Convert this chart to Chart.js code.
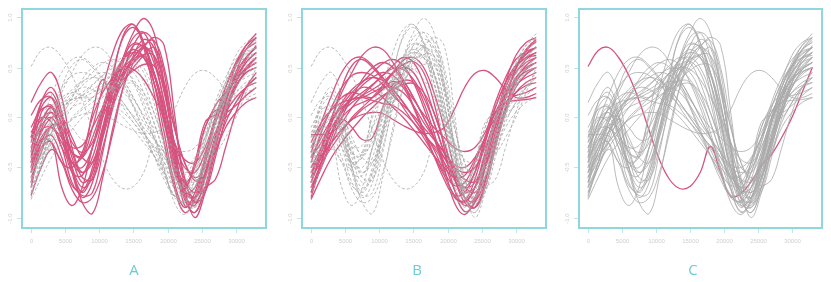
<!DOCTYPE html>
<html>
<head>
<meta charset="utf-8">
<script src="https://cdn.jsdelivr.net/npm/chart.js@4.4.1/dist/chart.umd.min.js"></script>
<style>
  html, body { margin: 0; padding: 0; background: #fff; }
  #wrap { position: relative; width: 831px; height: 282px; overflow: hidden; }
  canvas { position: absolute; top: 0; }
  .title {
    position: absolute; top: 259px; width: 40px; margin-left: -20px;
    text-align: center; font-family: 'Open Sans', sans-serif; font-size: 15px; color: #6ccbd6;
  }
</style>
</head>
<body>
<div id="wrap">
  <canvas id="chartA" width="280" height="282" style="left:0px"></canvas>
  <canvas id="chartB" width="280" height="282" style="left:280px"></canvas>
  <canvas id="chartC" width="274" height="282" style="left:557px"></canvas>
  <div class="title" style="left:134px">A</div>
  <div class="title" style="left:417px">B</div>
  <div class="title" style="left:693px">C</div>
</div>
<script>
// Shared sample positions of every curve
const xGrid = [0, 1500, 3000, 4500, 6000, 7500, 9000, 10500, 12000, 13500, 15000, 16500,
    18000, 19500, 21000, 22500, 24000, 25500, 27000, 28500, 30000, 31500, 33000];
const xTicks = [0, 5000, 10000, 15000, 20000, 25000, 30000];
const yTicks = [-1, -0.5, 0, 0.5, 1];

// Cluster highlighted in panel A
const groupA = [
    [0.15, 0.35, 0.45, 0.2, -0.3, -0.55, -0.4, 0.0, 0.45, 0.8, 0.9, 0.75, 0.45, 0.0, -0.55, -0.72, -0.45, -0.1, 0.12, 0.25, 0.38, 0.48, 0.55],
    [0.02, 0.18, 0.2, -0.1, -0.55, -0.8, -0.65, -0.2, 0.25, 0.6, 0.85, 0.99, 0.85, 0.35, -0.3, -0.78, -0.88, -0.6, -0.2, 0.15, 0.45, 0.68, 0.8],
    [-0.1, 0.08, 0.1, -0.15, -0.5, -0.85, -0.96, -0.6, -0.1, 0.3, 0.55, 0.7, 0.8, 0.72, 0.05, -0.7, -1.0, -0.75, -0.35, -0.05, 0.15, 0.3, 0.4],
    [-0.2, -0.02, 0.05, -0.15, -0.35, -0.38, 0.05, 0.38, 0.15, 0.45, 0.72, 0.7, 0.45, 0.1, -0.25, -0.5, -0.55, -0.35, -0.05, 0.2, 0.4, 0.55, 0.65],
    [-0.3, -0.08, 0.0, -0.2, -0.5, -0.7, -0.6, -0.15, 0.4, 0.82, 0.93, 0.7, 0.25, -0.25, -0.7, -0.95, -0.82, -0.45, -0.05, 0.25, 0.45, 0.6, 0.7],
    [-0.45, -0.2, -0.1, -0.25, -0.45, -0.5, -0.3, 0.0, 0.25, 0.45, 0.58, 0.6, 0.42, 0.05, -0.4, -0.65, -0.5, -0.1, 0.07, 0.05, 0.12, 0.22, 0.3],
    [-0.55, -0.25, -0.18, -0.4, -0.68, -0.74, -0.5, -0.1, 0.2, 0.4, 0.6, 0.7, 0.62, 0.25, -0.25, -0.65, -0.8, -0.6, -0.2, 0.2, 0.52, 0.72, 0.84],
    [-0.78, -0.5, -0.32, -0.45, -0.72, -0.85, -0.8, -0.55, -0.15, 0.3, 0.62, 0.78, 0.7, 0.3, -0.3, -0.75, -0.8, -0.55, -0.25, 0.05, 0.3, 0.45, 0.5],
    [-0.25, 0.1, 0.2, 0.0, -0.25, -0.35, -0.25, 0.05, 0.3, 0.45, 0.55, 0.63, 0.62, 0.35, -0.1, -0.45, -0.6, -0.5, -0.2, 0.15, 0.42, 0.6, 0.7],
    [-0.4, -0.05, 0.1, -0.05, -0.35, -0.6, -0.62, -0.3, 0.1, 0.45, 0.72, 0.85, 0.75, 0.3, -0.3, -0.8, -0.95, -0.7, -0.3, 0.05, 0.3, 0.48, 0.6],
    [-0.6, -0.35, -0.08, -0.1, -0.35, -0.4, -0.2, 0.1, 0.35, 0.5, 0.48, 0.38, 0.2, 0.0, -0.25, -0.42, -0.45, -0.3, 0.0, 0.3, 0.52, 0.68, 0.75],
    [-0.7, -0.3, -0.25, -0.7, -0.88, -0.7, -0.3, 0.05, 0.35, 0.6, 0.74, 0.7, 0.45, 0.0, -0.45, -0.75, -0.7, -0.45, -0.15, 0.05, 0.2, 0.3, 0.35],
    [-0.35, 0.15, 0.3, 0.05, -0.5, -0.75, -0.55, -0.1, 0.3, 0.58, 0.68, 0.6, 0.35, -0.05, -0.5, -0.8, -0.85, -0.7, -0.62, -0.3, 0.05, 0.3, 0.45],
    [-0.5, -0.12, 0.05, -0.15, -0.45, -0.55, -0.45, -0.15, 0.15, 0.35, 0.5, 0.62, 0.7, 0.45, -0.3, -0.88, -0.8, -0.4, 0.0, 0.3, 0.55, 0.72, 0.8],
    [-0.15, 0.0, -0.05, -0.3, -0.45, -0.4, -0.1, 0.3, 0.65, 0.88, 0.93, 0.75, 0.35, -0.15, -0.65, -0.9, -0.75, -0.4, -0.05, 0.2, 0.38, 0.48, 0.55],
    [-0.3, -0.12, -0.1, -0.2, -0.3, -0.28, -0.1, 0.1, 0.25, 0.38, 0.47, 0.53, 0.52, 0.3, -0.1, -0.45, -0.63, -0.58, -0.35, -0.1, 0.05, 0.15, 0.2],
    [-0.65, -0.25, -0.1, -0.3, -0.65, -0.78, -0.75, -0.35, 0.15, 0.55, 0.8, 0.85, 0.6, 0.15, -0.4, -0.82, -0.95, -0.7, -0.3, 0.05, 0.35, 0.55, 0.65],
    [-0.45, 0.05, 0.12, -0.2, -0.55, -0.58, -0.3, 0.1, 0.4, 0.58, 0.65, 0.6, 0.35, -0.05, -0.5, -0.7, -0.45, -0.05, 0.02, 0.0, 0.15, 0.3, 0.4],
    [-0.2, 0.15, 0.25, 0.0, -0.4, -0.65, -0.55, -0.15, 0.25, 0.5, 0.65, 0.72, 0.55, 0.15, -0.35, -0.72, -0.8, -0.6, -0.25, 0.1, 0.35, 0.5, 0.6],
    [-0.55, -0.22, -0.25, -0.45, -0.5, -0.35, 0.0, 0.25, 0.4, 0.5, 0.6, 0.72, 0.77, 0.5, -0.05, -0.6, -0.85, -0.75, -0.4, 0.0, 0.35, 0.58, 0.72],
    [-0.38, -0.15, 0.0, 0.0, -0.2, -0.4, -0.45, -0.2, 0.15, 0.42, 0.58, 0.62, 0.45, 0.1, -0.3, -0.62, -0.75, -0.55, -0.2, 0.1, 0.32, 0.45, 0.5]
];

// Cluster highlighted in panel B
const groupB = [
    [-0.6, -0.3, 0.0, 0.25, 0.45, 0.62, 0.7, 0.68, 0.55, 0.38, 0.2, 0.0, -0.2, -0.45, -0.72, -0.88, -0.8, -0.5, -0.15, 0.2, 0.48, 0.67, 0.76],
    [-0.8, -0.45, -0.05, 0.3, 0.52, 0.58, 0.5, 0.38, 0.25, 0.1, -0.05, -0.2, -0.38, -0.58, -0.78, -0.84, -0.7, -0.4, -0.05, 0.25, 0.45, 0.55, 0.6],
    [-0.17, -0.17, -0.15, -0.05, 0.1, 0.22, 0.32, 0.42, 0.52, 0.6, 0.55, 0.35, 0.05, -0.25, -0.55, -0.74, -0.7, -0.45, -0.1, 0.2, 0.4, 0.5, 0.55],
    [-0.5, -0.3, -0.1, 0.05, 0.15, 0.22, 0.28, 0.35, 0.45, 0.53, 0.56, 0.45, 0.15, -0.3, -0.72, -0.94, -0.85, -0.5, -0.05, 0.35, 0.62, 0.75, 0.8],
    [-0.7, -0.45, -0.15, -0.02, -0.1, -0.22, -0.2, 0.1, 0.33, 0.35, 0.2, 0.0, -0.2, -0.4, -0.58, -0.7, -0.65, -0.4, -0.05, 0.25, 0.45, 0.58, 0.65],
    [-0.55, -0.4, -0.25, -0.12, -0.02, 0.03, 0.05, 0.04, -0.02, -0.08, -0.13, -0.16, -0.15, -0.1, 0.08, 0.3, 0.44, 0.47, 0.4, 0.28, 0.2, 0.2, 0.24],
    [-0.65, -0.4, -0.15, 0.05, 0.2, 0.32, 0.4, 0.45, 0.42, 0.32, 0.18, 0.03, -0.1, -0.2, -0.3, -0.34, -0.3, -0.15, 0.1, 0.35, 0.52, 0.63, 0.7],
    [-0.75, -0.5, -0.2, 0.05, 0.22, 0.3, 0.28, 0.2, 0.1, 0.0, -0.12, -0.25, -0.38, -0.5, -0.6, -0.58, -0.42, -0.2, 0.05, 0.22, 0.33, 0.4, 0.45],
    [-0.4, -0.2, -0.02, 0.1, 0.18, 0.25, 0.33, 0.42, 0.49, 0.48, 0.38, 0.2, -0.05, -0.35, -0.62, -0.8, -0.84, -0.62, -0.25, 0.1, 0.38, 0.52, 0.6],
    [-0.82, -0.6, -0.4, -0.25, -0.12, 0.0, 0.1, 0.2, 0.3, 0.37, 0.35, 0.15, -0.15, -0.5, -0.85, -0.97, -0.82, -0.45, -0.05, 0.3, 0.52, 0.64, 0.7],
    [-0.3, -0.1, 0.08, 0.2, 0.25, 0.22, 0.2, 0.28, 0.36, 0.3, 0.1, -0.15, -0.38, -0.55, -0.68, -0.65, -0.45, -0.2, 0.05, 0.15, 0.17, 0.18, 0.2],
    [-0.55, -0.35, -0.15, 0.0, 0.1, 0.15, 0.2, 0.3, 0.45, 0.57, 0.6, 0.5, 0.25, -0.1, -0.5, -0.8, -0.9, -0.7, -0.3, 0.05, 0.3, 0.43, 0.5],
    [-0.25, -0.05, 0.08, 0.15, 0.18, 0.2, 0.25, 0.3, 0.3, 0.25, 0.12, -0.05, -0.2, -0.35, -0.47, -0.5, -0.4, -0.2, 0.0, 0.15, 0.25, 0.32, 0.35],
    [-0.7, -0.5, -0.25, 0.0, 0.2, 0.38, 0.5, 0.55, 0.5, 0.35, 0.12, -0.12, -0.38, -0.62, -0.78, -0.75, -0.55, -0.2, 0.15, 0.4, 0.58, 0.66, 0.7],
    [-0.45, -0.15, 0.1, 0.3, 0.42, 0.45, 0.42, 0.33, 0.22, 0.12, 0.02, -0.1, -0.22, -0.35, -0.5, -0.62, -0.64, -0.5, -0.2, 0.08, 0.25, 0.35, 0.4],
    [-0.6, -0.45, -0.3, -0.15, 0.0, 0.1, 0.2, 0.32, 0.44, 0.5, 0.45, 0.25, -0.05, -0.35, -0.62, -0.7, -0.55, -0.25, 0.05, 0.2, 0.22, 0.25, 0.3],
    [-0.35, -0.05, 0.22, 0.45, 0.58, 0.6, 0.52, 0.4, 0.28, 0.15, 0.0, -0.15, -0.32, -0.55, -0.78, -0.85, -0.7, -0.35, 0.0, 0.3, 0.5, 0.6, 0.65],
    [-0.65, -0.35, -0.05, 0.15, 0.28, 0.36, 0.4, 0.37, 0.28, 0.15, 0.0, -0.15, -0.3, -0.45, -0.6, -0.7, -0.75, -0.6, -0.25, 0.1, 0.35, 0.48, 0.55],
    [-0.5, -0.38, -0.25, -0.12, -0.02, 0.08, 0.15, 0.22, 0.28, 0.33, 0.34, 0.25, 0.05, -0.25, -0.6, -0.85, -0.9, -0.65, -0.2, 0.2, 0.5, 0.68, 0.78],
    [-0.75, -0.45, -0.15, 0.08, 0.18, 0.2, 0.17, 0.14, 0.12, 0.05, -0.05, -0.17, -0.28, -0.4, -0.5, -0.55, -0.5, -0.3, -0.02, 0.22, 0.38, 0.46, 0.5],
    [-0.4, -0.25, -0.05, 0.12, 0.25, 0.35, 0.45, 0.54, 0.58, 0.52, 0.35, 0.1, -0.2, -0.52, -0.8, -0.83, -0.62, -0.25, 0.1, 0.35, 0.52, 0.6, 0.62]
];

// The single curve highlighted in panel C
const outlier = [0.51, 0.67, 0.7, 0.6, 0.42, 0.17, -0.13, -0.42, -0.62, -0.71, -0.69, -0.55, -0.29, -0.55, -0.79, -0.76, -0.64, -0.48, -0.37, -0.2, 0.0, 0.25, 0.5];

const PINK = '#d6527f';
const GREY = '#a9a9a9';
const FRAME = '#8fd6dd';

function toPoints(ys) {
    return ys.map((y, i) => ({ x: xGrid[i], y }));
}

function curve(ys, color, width, dash) {
    return {
        data: toPoints(ys),
        borderColor: color,
        borderWidth: width,
        borderDash: dash || [],
        pointRadius: 0,
        tension: 0.4,
        fill: false
    };
}

// Box, ticks and tick labels in the style of a base R plot
const framePlugin = {
    id: 'frame',
    afterDatasetsDraw(chart) {
        const { ctx, chartArea: a, scales: { x, y } } = chart;
        ctx.save();
        ctx.strokeStyle = FRAME;
        ctx.lineWidth = 2;
        ctx.strokeRect(a.left, a.top, a.right - a.left, a.bottom - a.top);

        ctx.strokeStyle = '#bfe6ea';
        ctx.lineWidth = 1;
        ctx.fillStyle = '#cfcfcf';
        ctx.font = '6px "Liberation Sans", sans-serif';
        ctx.textAlign = 'center';
        ctx.textBaseline = 'middle';

        xTicks.forEach(v => {
            const px = Math.round(x.getPixelForValue(v)) + 0.5;
            ctx.beginPath();
            ctx.moveTo(px, a.bottom + 1);
            ctx.lineTo(px, a.bottom + 5);
            ctx.stroke();
            ctx.fillText(String(v), px, a.bottom + 13);
        });

        yTicks.forEach(v => {
            const py = Math.round(y.getPixelForValue(v)) + 0.5;
            ctx.beginPath();
            ctx.moveTo(a.left - 5, py);
            ctx.lineTo(a.left - 1, py);
            ctx.stroke();
            ctx.save();
            ctx.translate(a.left - 12, py);
            ctx.rotate(-Math.PI / 2);
            ctx.fillText(v.toFixed(1), 0, 0);
            ctx.restore();
        });
        ctx.restore();
    }
};

function makePanel(canvas, datasets, rightPad) {
    return new Chart(canvas, {
        type: 'line',
        data: { datasets },
        options: {
            responsive: false,
            animation: false,
            layout: { padding: { left: 22, top: 9, right: rightPad, bottom: 54 } },
            plugins: { legend: { display: false }, tooltip: { enabled: false } },
            scales: {
                x: { type: 'linear', min: -1324, max: 34424, display: false },
                y: { type: 'linear', min: -1.105, max: 1.085, display: false }
            }
        },
        plugins: [framePlugin]
    });
}

const dashed = [3, 2];

makePanel(document.getElementById('chartA'), [
    ...[...groupB, outlier].map(ys => curve(ys, GREY, 0.8, dashed)),
    ...groupA.map(ys => curve(ys, PINK, 1.3))
], 14);

makePanel(document.getElementById('chartB'), [
    ...[...groupA, outlier].map(ys => curve(ys, GREY, 0.8, dashed)),
    ...groupB.map(ys => curve(ys, PINK, 1.3))
], 14);

makePanel(document.getElementById('chartC'), [
    ...[...groupA, ...groupB].map(ys => curve(ys, GREY, 0.8)),
    curve(outlier, PINK, 1.3)
], 9);
</script>
</body>
</html>
